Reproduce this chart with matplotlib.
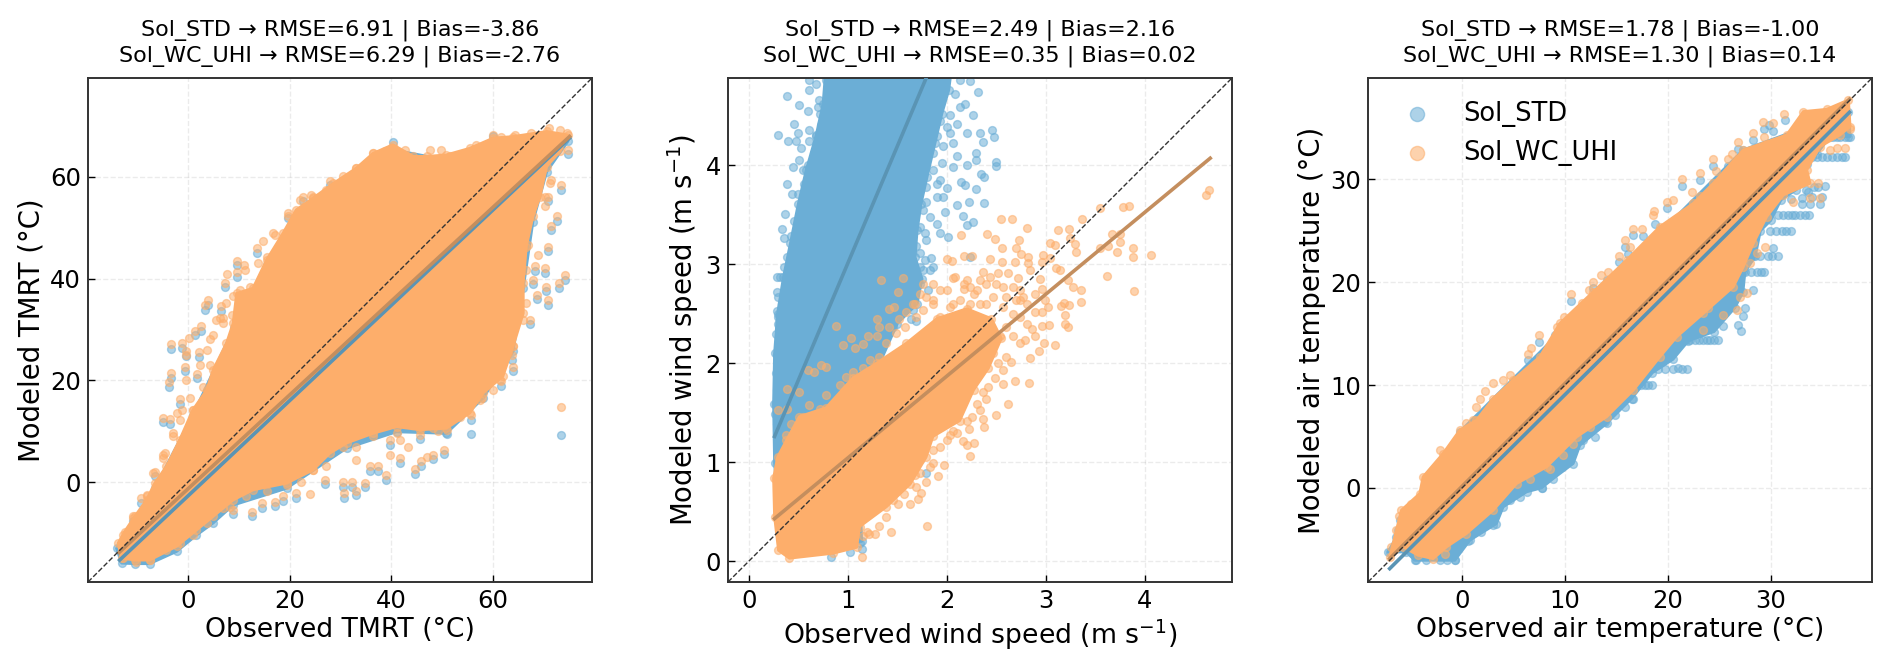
import numpy as np
import matplotlib
matplotlib.use("Agg")
import matplotlib.pyplot as plt

# The dense part of each cloud is read off as an outline (thousands of
# overlapping dots can't be read one by one), stray dots are read individually.

BLUE = "#6BAED6"
ORANGE = "#FDAE6B"
BLUE_LINE = "#5A94B4"
ORANGE_LINE = "#C48E5E"

# ---- TMRT ----
tmrt_orange_outline = [(-13.7,-12.0),(-12.4,-9.7),(-10.4,-6.7),(-8.1,-3.5),(-6.5,-0.2),(-4.2,3.1),(-1.6,8.3),(1.0,14.2),(3.7,18.1),(5.0,22.1),(7.6,27.3),(8.9,31.2),(9.6,37.1),(12.8,38.1),(15.5,43.7),(18.7,48.9),(21.3,53.5),(24.6,55.8),(28.6,58.7),(33.1,61.7),(36.4,64.6),(40.3,66.3),(44.3,64.0),(46.9,64.0),(50.8,64.3),(55.4,65.6),(60.0,67.6),(63.9,67.9),(70.5,68.9),(74.7,68.2),(73.1,65.0),(70.5,62.0),(69.2,56.1),(67.8,52.2),(66.5,46.3),(65.9,39.1),(65.9,33.2),(63.9,26.7),(61.9,20.8),(58.0,17.5),(55.4,13.6),(50.8,10.6),(45.6,10.3),(41.0,10.9),(36.4,9.6),(31.2,7.7),(27.9,5.7),(24.6,2.4),(19.4,-0.2),(12.8,-1.5),(8.9,-3.5),(5.0,-6.7),(1.7,-9.4),(-2.2,-12.6),(-7.5,-15.3),(-10.4,-15.3),(-13.0,-14.9)]
tmrt_orange_dots = [(-3.3,27.1),(-1.2,27.3),(0.3,28.3),(1.4,29.8),(2.5,30.6),(-0.4,25.7),(-0.3,24.9),(2.2,25.5),(3.7,25.9),(5.0,28.9),(4.3,28.1),(3.3,34.8),(4.0,35.7),(6.5,34.6),(6.3,32.2),(7.4,39.2),(7.7,40.9),(9.6,43.5),(9.7,41.3),(11.0,42.7),(11.2,41.7),(13.5,46.0),(14.8,47.3),(16.8,48.9),(19.7,52.8),(22.7,56.1),(24.3,56.4),(27.9,59.2),(-3.2,21.4),(-3.7,19.6),(-0.6,22.7),(1.8,21.3),(-0.4,20.1),(-1.6,16.3),(0.4,16.5),(-4.8,12.7),(-3.5,12.4),(-2.2,13.6),(-1.2,14.2),(-6.5,2.1),(-9.1,-3.1),(-8.1,-2.5),(-10.7,-6.7),(-2.9,9.0),(-4.8,5.4),
    (8.9,-5.4),(12.6,-5.8),(14.5,-4.1),(17.2,-3.8),(18.7,-2.8),(21.3,-2.2),(24.1,-2.4),(30.7,-2.2),(33.1,-1.7),(34.8,-0.1),(32.2,0.0),(30.5,0.0),(27.0,0.5),(39.0,1.4),(37.4,3.1),(35.8,3.1),(44.6,2.6),(45.9,4.1),(48.2,5.4),(46.9,5.0),(50.3,6.4),(43.3,7.0),(41.7,4.7),(39.7,5.4),(39.7,8.2),(45.6,9.3),(49.2,10.0),(51.0,10.3),(55.7,13.2),(57.7,16.5),(61.6,19.8),(63.9,22.7),(63.6,25.0),(67.2,31.9),(68.5,36.8),(70.7,35.8),(70.3,38.4),(67.8,39.8),(68.2,42.4),(70.1,42.0),(73.0,39.1),(74.1,40.7),(70.8,46.3),(68.8,44.7),(71.4,50.4),(72.6,52.3),(73.4,58.3),(71.3,59.4),(70.8,56.1),(70.1,54.2),(74.7,65.3),(73.1,69.1),(71.0,69.5),(74.4,68.6),(73.3,14.8),
    (6.9,31.2),(8.6,32.9),(7.6,35.2),(8.9,36.5),(10.2,37.8),(12.2,38.4),(14.5,40.4),(13.8,43.0),(15.5,44.3),(17.1,48.6),(19.7,52.2),(22.0,55.5),(24.6,56.1),(27.2,57.4),(30.5,60.1),(33.1,61.7),(36.4,64.6),(38.7,65.0),(42.6,65.3),(44.3,63.3),(47.5,65.3),(49.8,65.3),(51.5,64.0),(54.1,64.3),(56.7,66.3),(61.6,67.9),(60.0,68.2),(64.2,68.2),(67.5,68.6),(69.2,67.9),(69.2,60.7),(71.1,58.7),(70.1,56.1),(66.5,49.6),(66.9,46.6),(65.2,41.7),(66.5,41.7),(64.6,35.2),(66.5,35.2),(65.9,31.9),(63.9,26.7),(62.9,25.3),(61.3,20.1),(60.0,18.1),(57.4,16.2),(53.4,12.9),(50.8,11.6),(48.2,10.6),(45.6,10.9),(41.0,9.6),(41.7,8.3),(36.4,9.0),(33.1,7.0),(33.1,4.4),(30.5,7.0),(27.2,3.1),(24.6,2.4),(22.3,0.1),(19.4,-0.5),(15.5,-1.8),(11.5,-2.8),(8.3,-4.8),(6.9,-5.1),(3.7,-8.1),(1.0,-10.3),(-1.6,-12.0),(-4.2,-13.3),(-7.5,-15.3),(-10.1,-15.6),(-12.7,-14.9),(3.0,18.8),(1.0,14.2),(-1.6,12.2),(-2.9,9.6),(-4.5,5.7),(-4.8,4.7),(-6.8,1.8),(-8.1,-2.8),(-10.7,-7.1),(-12.7,-10.3),(6.3,23.4),(4.3,23.1),(2.4,23.1),(5.6,31.9),(6.9,32.2)]
tmrt_blue_outline = [(-14,-13),(-6.5,-1.2),(1,13.2),(9,30.2),(15.5,42.7),(24.6,54.8),(33.1,60.7),(40.3,65.3),(50.8,63.3),(60,66.6),(70.5,67.9),(74.7,67),(70.5,61),(67.8,51.2),(65.9,38.1),(63.9,25.7),(58,16.5),(50.8,9.6),(41,9.9),(31.2,6.7),(19.4,-1.2),(8.9,-4.5),(5,-8),(1.7,-10.4),(-2.2,-13.6),(-7.5,-16),(-10.4,-16),(-13,-15.9)]
tmrt_blue_dots = [(-3.3,26.2),(-1.2,26.4),(1.4,28.9),(2.5,29.7),(-0.4,24.8),(2.2,24.6),(3.3,33.9),(4,34.8),(6.5,33.7),(7.4,38.3),(9.7,40.4),(9.6,42.6),(13.5,45),(19.7,51.9),(22.7,55.2),(27.9,58.3),(-3.2,20.5),(-3.7,18.7),(-0.6,21.8),(1.8,20.4),(-1.6,15.4),(-4.8,11.8),(-3.5,11.5),(-6.5,1.2),(-9.1,-4),(-10.7,-7.6),
    (8.9,-6.3),(12.6,-6.7),(14.5,-5),(17.2,-4.7),(18.7,-3.7),(21.3,-3.1),(30.7,-3.1),(33.1,-2.6),(34.8,-1),(32.2,-0.9),(30.5,-0.9),(27,-0.4),(39,0.5),(37.4,2.2),(35.8,2.2),(44.6,1.7),(45.9,3.2),(48.2,4.5),(50.3,5.5),(41.7,3.8),(39.7,7.3),(45.6,8.4),(51,9.4),(55.7,12.3),(61.6,18.9),(63.9,21.8),(63.6,24.1),(67.2,31),(68.5,35.9),(70.7,34.9),(70.3,37.5),(67.8,38.9),(68.2,41.5),(70.1,41.1),(73,38.2),(74.1,39.8),(70.8,45.4),(71.4,49.5),(72.6,51.4),(73.4,57.4),(70.8,55.2),(74.7,64.4),(60,68.1),(40.3,66.8),(73.3,9.2),(55.7,9.4)]
tmrt_blue_fit = ([-13.4, 75.0], [-15.3, 67.6])
tmrt_orange_fit = ([-13.5, 75.0], [-13.8, 67.9])

# ---- wind speed ----
wind_blue_outline = [(0.26,0.99),(0.25,1.59),(0.26,2.10),(0.29,2.50),(0.35,2.87),(0.42,3.21),(0.50,3.61),(0.58,3.95),(0.68,4.30),(0.75,4.62),(0.78,5.0),(2.05,5.0),(2.02,4.76),(1.95,4.52),(1.88,4.22),(1.80,3.88),(1.74,3.61),(1.70,3.34),(1.68,3.07),(1.75,2.85),(1.70,2.60),(1.50,2.40),(1.1,1.5),(1.14,0.2),(0.5,0.2),(0.3,0.5)]
wind_blue_dots = [(0.39,4.70),(0.29,4.30),(0.40,4.24),(0.48,4.24),(0.51,4.61),(0.46,4.42),(0.50,4.32),(0.61,4.35),(0.53,4.17),(0.51,4.05),(0.45,3.98),(0.39,3.81),(0.44,3.71),(0.37,3.51),(0.34,3.36),(0.36,3.26),(0.36,2.97),(0.28,2.87),(0.32,2.87),(0.28,2.72),(0.30,2.67),(0.28,2.53),(0.30,2.47),(0.27,2.29),(0.28,2.08),(0.27,1.90),(0.30,1.71),(0.27,1.59),(0.31,1.00),(0.61,4.76),(0.61,4.86),(0.71,4.66),(0.85,4.62),(0.72,4.52),(0.73,4.41),(0.60,4.55),(0.98,4.52),(0.93,4.39),
    (2.31,4.74),(2.23,4.85),(2.18,4.62),(2.26,4.51),(2.10,4.42),(2.03,4.32),(2.20,4.32),(2.33,4.32),(2.46,4.35),(2.48,4.28),(2.37,4.23),(2.29,4.12),(2.29,4.05),(2.50,4.03),(2.50,3.99),(2.35,3.91),(2.38,3.88),(2.14,3.83),(2.18,3.80),(2.29,3.76),(2.00,3.77),(2.10,3.60),(2.22,3.63),(2.38,3.62),(1.98,3.53),(2.16,3.49),(2.26,3.43),(2.20,3.40),(1.90,3.41),(1.93,3.31),(2.01,3.27),(1.84,3.06),(2.23,3.07),(1.86,2.97),(1.78,3.31),(2.06,3.98),(2.20,4.00),(2.10,4.09),(2.06,4.22),(1.93,3.85),(1.79,3.63),(1.90,3.68),(1.96,3.68),(1.73,3.11),(1.76,2.94),(1.81,2.74),(1.64,2.45),(1.79,0.89),(1.14,0.12),(1.12,0.18),(0.83,0.04),(1.02,0.09),
    (0.29,1.19),(0.28,1.39),(0.34,1.46),(0.26,1.49),(0.33,1.63),(0.28,1.73),(0.36,1.83),(0.28,2.00),(0.34,2.10),(0.31,2.20),(0.38,2.30),(0.29,2.40),(0.34,2.60),(0.38,2.77),(0.41,2.80),(0.43,2.94),(0.39,3.07),(0.46,3.21),(0.43,3.28),(0.51,3.38),(0.46,3.44),(0.53,3.55),(0.58,3.58),(0.50,3.71),(0.56,3.81),(0.61,3.85),(0.55,3.95),(0.60,4.00),(0.66,4.12),(0.61,4.24),(0.68,4.29),(0.75,4.40),(0.70,4.59),(0.80,4.56),(0.82,4.76),(0.88,4.66),(0.68,4.82),(0.78,4.86),
    (2.13,4.86),(2.08,4.72),(2.13,4.59),(2.03,4.51),(1.93,4.45),(2.00,4.39),(1.90,4.29),(1.96,4.19),(1.86,4.12),(1.95,4.02),(1.86,3.95),(1.79,3.78),(1.90,3.81),(1.76,3.55),(1.83,3.48),(1.73,3.38),(1.79,3.24),(1.69,3.18),(1.78,3.04),(1.73,2.97),(1.83,2.94),(1.66,2.87),(1.73,2.80),(1.63,2.74),(1.59,2.80),(1.49,2.77),(1.56,2.60),(1.46,2.64),(1.66,2.54),(1.69,2.43),(1.39,2.47),(1.22,2.40),(1.46,2.37)]
wind_orange_outline = [(0.25,0.84),(0.29,1.05),(0.38,1.22),(0.51,1.46),(0.78,1.55),(1.05,1.85),(1.29,2.00),(1.59,2.20),(1.90,2.45),(2.20,2.55),(2.45,2.45),(2.55,2.25),(2.42,1.95),(2.27,1.73),(2.13,1.42),(1.86,1.26),(1.79,1.05),(1.63,0.78),(1.39,0.55),(1.12,0.35),(1.09,0.14),(0.85,0.08),(0.41,0.03),(0.30,0.11),(0.26,0.45)]
wind_orange_dots = [(2.55,3.46),(2.66,3.46),(2.81,3.37),(2.14,3.29),(2.41,3.30),(2.49,3.25),(2.73,3.24),(2.70,3.16),(2.56,3.16),(2.75,3.10),(2.82,3.07),(2.17,3.08),(2.25,3.08),(2.00,3.05),(2.05,3.03),(2.44,3.05),(2.56,3.02),(2.69,3.02),(2.82,3.01),(2.97,3.09),(3.04,3.06),(2.96,3.02),(3.12,3.34),(3.23,3.36),(3.37,3.46),(3.55,3.57),(3.78,3.58),(3.84,3.59),(4.62,3.70),(4.65,3.75),(3.67,3.30),(3.75,3.30),(3.75,3.22),(3.88,3.16),(3.88,3.07),(3.72,3.12),(4.06,3.09),(3.62,2.88),(3.89,2.73),(3.55,3.16),(3.63,3.18),(3.29,3.20),(3.30,3.12),(3.09,3.19),(3.04,3.21),(3.24,3.26),
    (3.14,2.94),(3.10,2.96),(3.22,2.84),(3.27,2.77),(3.35,2.74),(3.36,2.62),(3.23,2.59),(3.18,2.61),(3.15,2.58),(3.19,2.49),(3.19,2.40),(3.22,2.37),(3.03,2.39),(3.09,2.18),(2.98,2.20),(2.93,2.12),(2.96,2.38),(3.02,2.57),(2.96,2.52),(2.89,2.52),(2.84,2.05),(2.83,1.80),(2.69,1.82),(2.62,1.59),(2.50,1.48),(2.38,1.36),(2.22,1.34),(2.16,1.21),(2.27,1.19),(2.20,1.17),(2.23,1.06),(1.97,0.97),(1.91,0.86),(1.80,0.36),(1.44,0.30),(1.27,0.27),(1.21,0.27),(1.15,0.25),(1.14,0.04),(1.86,0.99),(1.79,0.80),(1.74,0.69),(1.71,0.63),(1.63,0.58),
    (1.34,2.84),(1.56,2.86),(1.51,2.72),(1.03,2.25),(0.88,2.38),(1.20,2.27),(1.29,2.45),(0.39,1.74),(0.51,1.71),(0.29,1.53),(0.39,1.54),(0.73,1.98),(0.60,1.93),(0.66,1.91),(0.78,1.96),(0.95,2.18),(1.07,2.15),(1.15,2.19),(1.42,2.55),(1.47,2.57),(1.29,2.27),(1.86,2.80),(1.76,2.80),(2.06,2.86),(2.20,2.84),(2.33,2.84),(2.44,2.87),(2.52,2.91),(2.62,2.91),(2.37,2.92),(2.72,2.86),(2.84,2.94),(2.94,2.85),(2.96,2.75),(2.89,2.70),(2.99,2.64),(2.74,2.64),(2.40,2.60),(2.27,2.70),(2.17,2.75),(2.08,2.87),
    (1.73,2.70),(1.79,2.67),(1.68,2.60),(1.86,2.64),(1.93,2.74),(2.00,2.74),(2.06,2.60),(2.13,2.64),(2.17,2.80),(2.23,2.77),(2.30,2.74),(2.23,2.60),(2.33,2.60),(2.40,2.80),(2.50,2.80),(2.57,2.77),(2.47,2.67),(2.60,2.67),(2.67,2.77),(2.74,2.74),(2.70,2.64),(2.77,2.67),(2.81,2.60),(2.57,2.57),(2.67,2.50),(2.74,2.47),(2.81,2.40),(2.86,2.35),(2.89,2.27),(2.79,2.23),(2.74,2.20),(2.67,2.27),(2.60,2.37),(2.54,2.27),(2.47,2.10),(2.52,2.00),(2.60,2.06),(2.65,2.01),(2.57,1.93),(2.49,1.85),(2.57,1.79),(2.42,1.76),(2.37,1.71),(2.40,1.64),(2.30,1.59),(2.33,1.53),(2.25,1.46),(2.37,1.44),(2.20,1.42),(2.06,1.32),(2.03,1.27),(2.00,1.22),(1.93,1.15),(1.86,1.12),(1.73,0.89),(1.68,0.87),(1.57,0.68),(1.51,0.58),(1.39,0.45),(1.32,0.36),(1.19,0.30),(1.46,0.62),(1.69,0.75),(1.83,0.95),(1.90,1.39),(2.10,1.29),
    (0.38,1.27),(0.43,1.39),(0.55,1.46),(0.61,1.58),(0.72,1.54),(0.78,1.68),(0.85,1.59),(0.92,1.78),(0.98,1.86),(1.05,1.91),(1.15,1.95),(1.22,2.03),(1.32,2.06),(1.39,2.20),(1.49,2.30),(1.58,2.37),(1.69,2.47),(1.76,2.54),(1.86,2.60),(1.93,2.47),(2.03,2.57),(1.32,2.37),(1.42,2.37),(1.52,2.45),(1.59,2.52),(1.66,2.60)]
wind_blue_fit = ([0.26, 1.80], [1.26, 4.90])
wind_orange_fit = ([0.26, 4.66], [0.43, 4.07])

# ---- air temperature ----
air_blue_outline = [(-7.20,-6.23),(-6.39,-4.77),(-0.23,5.45),(27.34,32.86),(37.56,36.59),(37.72,34.16),(35.78,34.16),(34.5,32.5),(33.5,31.5),(32.5,29),(31,28),(30,26),(29,25),(28.5,22.5),(27.5,21),(27.3,19),(26.5,17.5),(24.5,15.2),(22,14.3),(20.5,12.5),(18.5,11.2),(16.48,8.69),(14.04,6.26),(11.45,4.15),(10.80,2.37),(8.86,0.91),(7.72,0),(6.26,-0.39),(3.99,-1.85),(3.34,-3.47),(0.75,-5.09),(-0.71,-7.04),(-4.61,-7.04),(-5.42,-6.23)]
air_blue_dots = [(37.56,34.16),(36.75,34.16),(36.10,34.16),(37.24,32.14),(36.43,32.14),(35.45,32.14),(34.48,32.14),(35.29,29.35),(34.64,29.22),(33.67,28.80),(34.80,27.57),(33.83,27.57),(33.02,27.57),(33.73,26.53),(32.86,26.53),(32.05,26.53),(31.24,26.53),(31.95,24.94),(31.07,24.94),(30.75,22.54),(30.10,22.54),(30.26,23.29),(29.39,21.02),(28.64,21.02),(28.32,19.23),(27.51,17.45),(27.34,16.70),(26.86,15.83),(27.08,15.24),(25.40,15.76),(24.91,14.37),(24.10,14.37),(23.45,14.37),(22.64,14.37),(21.83,11.55),(21.02,11.61),(18.49,9.99),(17.77,9.99),(16.64,8.60),(15.83,7.88),(14.86,7.07),(13.88,6.42),(12.91,4.96),(11.77,4.64),(10.48,3.18),(9.67,2.04),(7.72,-0.03),(5.61,-0.88),(4.64,-1.20),(3.02,-3.63),(1.88,-4.28),(0.58,-5.16),(-0.71,-7.04),(-1.46,-7.04),(-2.17,-6.97),(-3.47,-7.04),(-4.44,-6.97),(-7.04,-6.23),
    (21.34,29.35),(23.13,29.94),(24.42,31.30),(25.88,31.33),(26.86,32.96),(28.32,33.83),(30.26,34.74),(29.35,34.87),(29.87,35.29),(31.40,35.78),(19.88,27.18),(18.75,25.66),(16.58,24.55),(15.83,23.45),(17.55,24.52),(15.25,21.93),(16.15,22.74),(14.04,20.21),(10.57,18.16),(12.75,19.40),(9.02,14.86),(7.49,14.17),(6.36,12.42),(-6.23,-4.05),(-6.07,-3.15),
    (33.67,32.14),(34.0,32.14),(35.0,32.14),(36.0,32.14),(36.9,32.14),(35.5,34.16),(36.4,34.16),(37.2,34.16),(30.7,26.53),(31.7,26.53),(32.4,26.53),(33.3,26.53),(29.9,24.94),(30.5,24.94),(31.5,24.94),(28.3,22.54),(29.0,22.54),(29.7,22.54),(27.3,21.02),(28.1,21.02),(29.1,21.02),(21.8,14.37),(22.2,14.37),(23.0,14.37),(23.8,14.37),(24.5,14.37),(19.0,11.6),(19.7,11.6),(20.5,11.6),(21.4,11.6),(17.0,10.0),(17.4,10.0),(18.1,10.0),(32.0,28.1),(33.0,28.2),(34.0,28.3),(35.0,28.3),(34.2,29.3),(33.4,29.0)]
air_orange_outline = [(-7.04,-6.71),(-6.39,-4.12),(-5.90,-2.17),(-4.12,-0.55),(-3.80,1.07),(-1.85,3.34),(-0.23,5.61),(1.39,6.58),(3.02,8.69),(4.96,10.48),(7.56,12.75),(9.50,15.99),(12.75,19.07),(15.99,22.15),(19.23,25.40),(22.48,27.67),(24.42,29.61),(27.34,32.86),(31.56,34.32),(33.18,36.59),(35.45,36.81),(37.56,37.72),(37.72,35.13),(36.75,34.32),(34.80,33.18),(33.51,30.91),(33.83,29.61),(31.24,28.48),(29.61,26.37),(28.32,23.78),(27.34,21.51),(26.37,19.56),(23.45,16.96),(20.86,14.69),(19.23,12.75),(16.64,9.50),(14.04,6.91),(11.13,4.96),(8.21,2.04),(5.29,0.42),(3.02,-2.17),(0.42,-4.44),(-1.52,-5.74),(-2.82,-6.88),(-4.28,-6.55),(-5.74,-5.74)]
air_orange_dots = [(31.33,36.36),(30.26,35.45),(29.22,35.55),(28.32,34.48),(29.35,34.16),(26.86,33.60),(26.21,32.47),(25.82,31.95),(24.36,31.95),(24.65,30.81),(23.13,30.65),(21.34,30.00),(22.32,28.74),(23.13,28.38),(19.88,27.83),(20.53,27.99),(18.65,26.92),(18.59,26.53),(17.45,25.14),(16.58,25.20),(15.83,24.10),(15.28,22.54),(16.32,23.45),(13.46,20.69),(14.21,20.95),(12.75,19.98),(12.36,19.23),(10.54,18.81),(11.61,17.94),(9.89,16.64),(9.18,15.67),(7.49,14.86),(6.65,13.56),(6.42,13.01),(4.64,10.96),(3.99,10.48),(3.02,10.15),(2.21,9.44),(1.39,7.88),(1.78,8.69),(0.42,6.33),(1.07,6.58),(-2.11,3.73),(-4.93,-1.52),(-6.13,-2.72),(-6.88,-5.74),
    (25.40,16.80),(23.45,15.34),(23.94,17.45),(26.69,17.29),(27.02,18.59),(27.67,18.91),(34.64,29.61),(33.83,28.15),(34.80,28.15),(32.21,27.83),(29.45,23.45),(28.64,22.80),(27.99,21.83),(12.42,5.94),(10.80,4.31),(9.83,3.18),(8.53,1.88),(6.58,0.91),(-0.55,-4.44),(-1.69,-6.39),(37.72,34.87),(37.24,33.02),(36.43,33.02),(35.78,32.86)]
air_blue_fit = ([-7.04, 37.66], [-7.85, 36.52])
air_orange_fit = ([-7.04, 37.66], [-6.88, 37.79])

titles = [
    "Sol_STD → RMSE=6.91 | Bias=-3.86\nSol_WC_UHI → RMSE=6.29 | Bias=-2.76",
    "Sol_STD → RMSE=2.49 | Bias=2.16\nSol_WC_UHI → RMSE=0.35 | Bias=0.02",
    "Sol_STD → RMSE=1.78 | Bias=-1.00\nSol_WC_UHI → RMSE=1.30 | Bias=0.14",
]
xlabels = ["Observed TMRT (°C)", "Observed wind speed (m s$^{-1}$)", "Observed air temperature (°C)"]
ylabels = ["Modeled TMRT (°C)", "Modeled wind speed (m s$^{-1}$)", "Modeled air temperature (°C)"]
limits = [(-19.6, 79.4), (-0.21, 4.88), (-9.15, 39.85)]
ticks = [[0, 20, 40, 60], [0, 1, 2, 3, 4], [0, 10, 20, 30]]
left_px = [88, 728, 1368]

W, H = 1892, 667


def draw_cloud(ax, outline, dots, color, label):
    o = np.array(outline).T
    d = np.array(dots).T
    ax.fill(o[0], o[1], color=color, lw=2, joinstyle="round", zorder=2)
    ax.scatter(o[0], o[1], s=32, color=color, alpha=0.55, lw=1, zorder=2)
    ax.scatter(d[0], d[1], s=32, color=color, alpha=0.55, lw=1, zorder=2, label=label)


fig = plt.figure(figsize=(W / 100, H / 100), dpi=100)
panels = [
    (tmrt_blue_outline, tmrt_blue_dots, tmrt_orange_outline, tmrt_orange_dots, tmrt_blue_fit, tmrt_orange_fit),
    (wind_blue_outline, wind_blue_dots, wind_orange_outline, wind_orange_dots, wind_blue_fit, wind_orange_fit),
    (air_blue_outline, air_blue_dots, air_orange_outline, air_orange_dots, air_blue_fit, air_orange_fit),
]
for i, p in enumerate(panels):
    ax = fig.add_axes([left_px[i] / W, 1 - 582 / H, 504 / W, 504 / H])
    draw_cloud(ax, p[0], p[1], BLUE, "Sol_STD")
    draw_cloud(ax, p[2], p[3], ORANGE, "Sol_WC_UHI")
    ax.plot(p[4][0], p[4][1], color=BLUE_LINE, lw=2.6, zorder=3)
    ax.plot(p[5][0], p[5][1], color=ORANGE_LINE, lw=2.6, zorder=3)
    ax.plot(limits[i], limits[i], "--", color="#333333", lw=1, zorder=4)
    ax.set_xlim(limits[i])
    ax.set_ylim(limits[i])
    ax.set_xticks(ticks[i])
    ax.set_yticks(ticks[i])
    ax.tick_params(direction="in", length=5, width=1, labelsize=17.5, pad=5)
    ax.grid(True, ls="--", lw=1, color="#000000", alpha=0.08)
    ax.set_axisbelow(True)
    for s in ax.spines.values():
        s.set_linewidth(1.4)
        s.set_color("#333333")
    ax.set_title(titles[i], fontsize=16, pad=12, linespacing=1.25)
    ax.set_xlabel(xlabels[i], fontsize=19.2, labelpad=3)
    ax.set_ylabel(ylabels[i], fontsize=19.8, labelpad=3)
    if i == 2:
        ax.legend(loc="upper left", frameon=False, fontsize=18.5, markerscale=1.8,
                  handletextpad=0.8, labelspacing=0.5, borderaxespad=0.5, borderpad=0.4)

fig.savefig("out.png", dpi=100)
